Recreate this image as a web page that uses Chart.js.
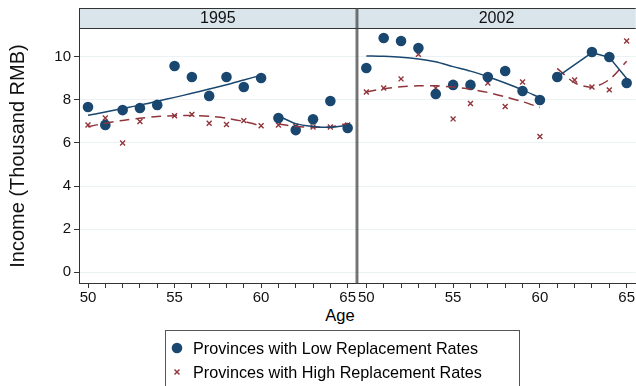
<!DOCTYPE html>
<html>
<head>
<meta charset="utf-8">
<script src="https://cdn.jsdelivr.net/npm/chart.js@4"></script>
<style>
  html, body { margin: 0; padding: 0; background: #fff; }
  body { width: 636px; height: 386px; position: relative; overflow: hidden;
         font-family: "Liberation Sans", Arial, sans-serif; }
  #wrapA { position: absolute; left: 0; top: 0; width: 357px; height: 305px; }
  #wrapB { position: absolute; left: 357px; top: 0; width: 279px; height: 305px; }
  #ageTitle { position: absolute; left: 300px; width: 80px; top: 306px; text-align: center;
              font-size: 16.5px; color: #000; }
  #legend { position: absolute; left: 165px; top: 330px; width: 355px; height: 70px;
            border: 1px solid #555; box-sizing: border-box; }
  .row { position: absolute; left: 0; height: 24px; display: flex; align-items: center;
         font-size: 16.2px; color: #000; white-space: nowrap; }
  .row canvas { width: 20px; height: 20px; margin-left: 1px; margin-right: 6px; }
</style>
</head>
<body>
<div id="wrapA"><canvas id="panelA"></canvas></div>
<div id="wrapB"><canvas id="panelB"></canvas></div>
<div id="ageTitle">Age</div>
<div id="legend">
  <div class="row" style="top:5px"><canvas id="keyLow" width="20" height="20"></canvas>Provinces with Low Replacement Rates</div>
  <div class="row" style="top:29px"><canvas id="keyHigh" width="20" height="20"></canvas>Provinces with High Replacement Rates</div>
</div>
<script>
// ages on the x axis
const ages = [50, 51, 52, 53, 54, 55, 56, 57, 58, 59, 60, 61, 62, 63, 64, 65];
const yTicks = [0, 2, 4, 6, 8, 10];
const years = ['1995', '2002'];

// average income by age (thousand RMB)
const low1995  = [7.67, 6.84, 7.53, 7.63, 7.77, 9.58, 9.07, 8.19, 9.07, 8.60, 9.02, 7.16, 6.60, 7.10, 7.95, 6.70];
const high1995 = [6.84, 7.16, 6.00, 7.00, 7.67, 7.27, 7.33, 6.92, 6.86, 7.04, 6.80, 6.84, 6.79, 6.74, 6.74, 6.84];
const low2002  = [9.49, 10.88, 10.74, 10.42, 8.28, 8.70, 8.70, 9.07, 9.35, 8.42, 8.00, 9.07, null, 10.23, 10.00, 8.79];
const high2002 = [8.37, 8.56, 8.98, 10.12, 8.56, 7.12, 7.84, 8.79, 7.70, 8.84, 6.30, 9.16, 8.93, 8.60, 8.47, 10.74];

// fitted lines: ages 50-60 and 61-65 fitted separately
const fitAgesEarly = [50, 51, 52, 53, 54, 55, 56, 57, 58, 59, 60];
const fitAgesLate = [61, 62, 63, 64, 65];
const fitLow1995Early  = [7.29, 7.44, 7.60, 7.76, 7.94, 8.12, 8.31, 8.51, 8.71, 8.93, 9.15];
const fitLow1995Late   = [7.26, 6.90, 6.77, 6.73, 6.82];
const fitHigh1995Early = [6.76, 6.92, 7.05, 7.15, 7.23, 7.27, 7.28, 7.24, 7.15, 7.00, 6.80];
const fitHigh1995Late  = [6.88, 6.77, 6.73, 6.75, 6.91];
const fitLow2002Early  = [10.05, 10.03, 9.99, 9.91, 9.78, 9.55, 9.34, 9.08, 8.79, 8.47, 8.10];
const fitLow2002Late   = [9.07, null, 10.20, 9.98, 9.00];
const fitHigh2002Early = [8.37, 8.52, 8.61, 8.66, 8.66, 8.60, 8.50, 8.35, 8.15, 7.92, 7.65];
const fitHigh2002Late  = [9.47, 8.80, 8.60, 8.95, 9.80];

const NAVY = '#1a476f';
const MAROON = '#90353b';
const GRID = '#eaf2f3';
const AXIS = '#333';
const STRIP = '#d9e5eb';
const FONT = "'Liberation Sans', Arial, sans-serif";

function pts(xs, ys) {
    return xs.map((x, i) => ({ x: x, y: ys[i] }));
}

// strip header above each panel plus the panel frame
const panelStrip = {
    id: 'panelStrip',
    afterDraw(chart, args, opts) {
        const { ctx, chartArea: a } = chart;
        const h = 21;
        ctx.save();
        ctx.fillStyle = STRIP;
        ctx.fillRect(a.left, a.top - h, a.right - a.left, h);
        ctx.strokeStyle = AXIS;
        ctx.lineWidth = 1;
        ctx.beginPath();
        ctx.moveTo(a.left, a.top - h + 0.5);
        ctx.lineTo(a.right, a.top - h + 0.5);
        ctx.moveTo(a.left, a.top - 0.5);
        ctx.lineTo(a.right, a.top - 0.5);
        ctx.moveTo(a.left + 0.5, a.top - h);
        ctx.lineTo(a.left + 0.5, a.bottom);
        if (opts.rightEdge) {
            ctx.moveTo(a.right - 0.5, a.top - h);
            ctx.lineTo(a.right - 0.5, a.bottom);
        }
        ctx.stroke();
        ctx.fillStyle = '#111';
        ctx.font = '16px ' + FONT;
        ctx.textAlign = 'center';
        ctx.textBaseline = 'middle';
        ctx.fillText(opts.title, (a.left + a.right) / 2, a.top - h / 2 + 0.5);
        ctx.restore();
    }
};

function fitLine(xs, ys, color, dashed) {
    return {
        data: pts(xs, ys),
        showLine: true,
        spanGaps: true,
        borderColor: color,
        borderWidth: 1.5,
        borderDash: dashed ? [10, 6] : [],
        pointRadius: 0,
        tension: ys.includes(null) ? 0 : 0.3,
        order: 1
    };
}

function makePanel(id, title, low, high, fits, showY) {
    const datasets = [
        { data: pts(ages, low), showLine: false, pointStyle: 'circle', pointRadius: 5.3,
          backgroundColor: NAVY, borderColor: NAVY, borderWidth: 0, order: 2 },
        { data: pts(ages, high), showLine: false, pointStyle: 'crossRot', pointRadius: 3.5,
          borderColor: MAROON, borderWidth: 1.4, order: 2 },
        fitLine(fitAgesEarly, fits[0], NAVY, false),
        fitLine(fitAgesLate, fits[1], NAVY, false),
        fitLine(fitAgesEarly, fits[2], MAROON, true),
        fitLine(fitAgesLate, fits[3], MAROON, true)
    ];
    return new Chart(document.getElementById(id), {
        type: 'scatter',
        data: { datasets },
        options: {
            responsive: true,
            maintainAspectRatio: false,
            animation: false,
            layout: { autoPadding: false, padding: { top: 29, left: 0, right: 0, bottom: 0 } },
            plugins: {
                legend: { display: false },
                tooltip: { enabled: false },
                panelStrip: { title: title, rightEdge: showY }
            },
            scales: {
                x: {
                    type: 'linear',
                    min: 49.48,
                    max: 65.52,
                    afterBuildTicks: s => { s.ticks = ages.map(v => ({ value: v })); },
                    afterFit: s => { s.height = 22; },
                    grid: { drawOnChartArea: false, tickLength: 5, tickColor: AXIS, tickWidth: 1 },
                    border: { display: true, color: AXIS, width: 1 },
                    ticks: {
                        autoSkip: false,
                        maxRotation: 0,
                        padding: 1,
                        color: '#111',
                        font: { family: FONT, size: 15 },
                        callback: v => (v % 5 === 0 ? String(v) : '')
                    }
                },
                y: {
                    min: -0.51,
                    max: 11.3,
                    afterBuildTicks: s => { s.ticks = yTicks.map(v => ({ value: v })); },
                    afterFit: s => { s.width = showY ? 79 : 0; },
                    grid: { color: GRID, lineWidth: 1, drawTicks: showY, tickLength: 5, tickColor: AXIS },
                    border: { display: showY, color: AXIS, width: 1 },
                    ticks: {
                        display: showY,
                        padding: 3,
                        color: '#111',
                        font: { family: FONT, size: 15 }
                    },
                    title: {
                        display: showY,
                        text: 'Income (Thousand RMB)',
                        color: '#111',
                        font: { family: FONT, size: 20 },
                        padding: { top: 6, bottom: 0 }
                    }
                }
            }
        },
        plugins: [panelStrip]
    });
}

makePanel('panelA', years[0], low1995, high1995,
    [fitLow1995Early, fitLow1995Late, fitHigh1995Early, fitHigh1995Late], true);
makePanel('panelB', years[1], low2002, high2002,
    [fitLow2002Early, fitLow2002Late, fitHigh2002Early, fitHigh2002Late], false);

// legend keys
function drawKey(id, style, radius, color, width) {
    const c = document.getElementById(id).getContext('2d');
    c.fillStyle = color;
    c.strokeStyle = color;
    c.lineWidth = width;
    Chart.helpers.drawPoint(c, { pointStyle: style, radius: radius, borderWidth: width }, 10, 10);
}
drawKey('keyLow', 'circle', 5.3, NAVY, 0);
drawKey('keyHigh', 'crossRot', 3.5, MAROON, 1.4);
</script>
</body>
</html>
